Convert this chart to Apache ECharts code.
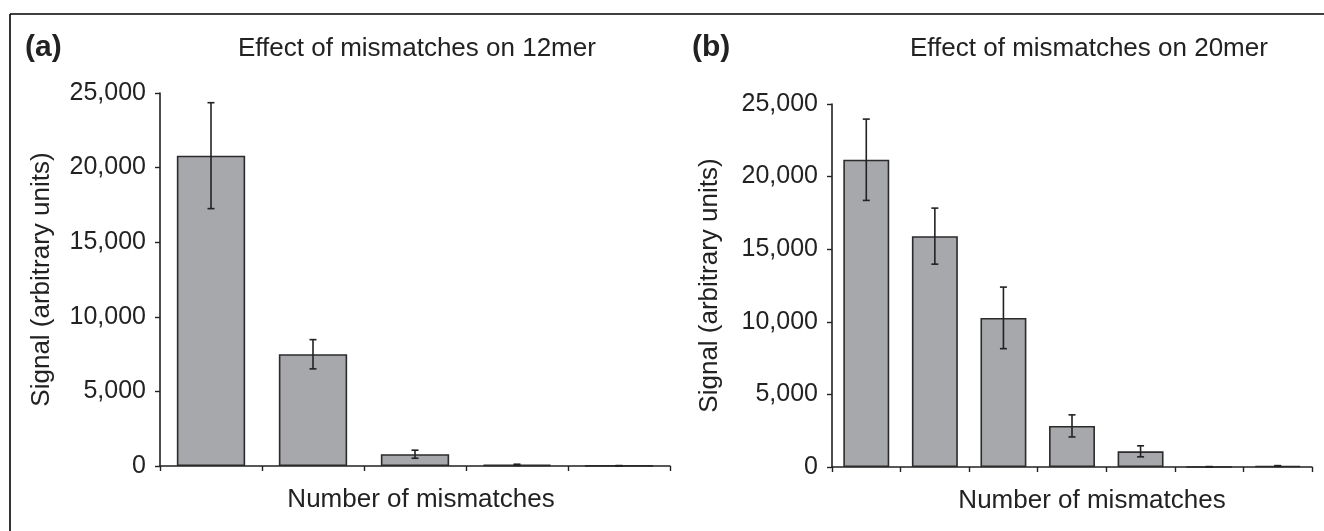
<!DOCTYPE html>
<html>
<head>
<meta charset="utf-8">
<script src="https://cdn.jsdelivr.net/npm/echarts@6/dist/echarts.min.js"></script>
<style>
html,body{margin:0;padding:0;background:#fff;}
#chart{width:1324px;height:531px;}
</style>
</head>
<body>
<div id="chart"></div>
<script>
// ---- data ----
const categories12 = ['0', '1', '2', '3', '4'];
const signal12 = [20800, 7490, 790, 80, 15];
const error12 = [3550, 980, 270, 40, 15];

const categories20 = ['0', '1', '2', '3', '4', '5', '6'];
const signal20 = [21160, 15900, 10270, 2830, 1080, 10, 70];
const error20 = [2800, 1930, 2120, 760, 380, 20, 25];

const yTicks = [0, 5000, 10000, 15000, 20000, 25000];
const titleA = 'Effect of mismatches on 12mer';
const titleB = 'Effect of mismatches on 20mer';
const xName = 'Number of mismatches';
const yName = 'Signal (arbitrary units)';

// ---- chart ----
const FONT = '"Liberation Sans", Arial, Helvetica, sans-serif';
const INK = '#222';
const chart = echarts.init(document.getElementById('chart'), null, {renderer: 'canvas'});

function fmt(v) {
  return String(v).replace(/\B(?=(\d{3})+(?!\d))/g, ',');
}

function errorData(vals, errs) {
  return vals.map((v, i) => [i, Math.max(0, v - errs[i]), v + errs[i]]);
}

function renderError(params, api) {
  const top = api.coord([api.value(0), api.value(2)]);
  const bot = api.coord([api.value(0), api.value(1)]);
  const cap = 3.5;
  const style = {stroke: INK, lineWidth: 1.6};
  return {
    type: 'group',
    children: [
      {type: 'line', shape: {x1: top[0], y1: top[1], x2: bot[0], y2: bot[1]}, style: style},
      {type: 'line', shape: {x1: top[0] - cap, y1: top[1], x2: top[0] + cap, y2: top[1]}, style: style},
      {type: 'line', shape: {x1: bot[0] - cap, y1: bot[1], x2: bot[0] + cap, y2: bot[1]}, style: style}
    ]
  };
}

function xAxisFor(cats, gridIndex, pad) {
  return {
    type: 'category',
    gridIndex: gridIndex,
    data: cats,
    boundaryGap: true,
    axisLine: {lineStyle: {color: INK, width: 1.6}},
    axisTick: {show: true, length: 5, inside: false, lineStyle: {color: INK, width: 1.4}},
    axisLabel: {show: false},
    splitLine: {show: false},
    name: xName,
    nameLocation: 'middle',
    nameGap: 21,
    nameTextStyle: {fontFamily: FONT, fontSize: 26, color: INK, padding: pad}
  };
}

function yAxisFor(gridIndex, gap) {
  return {
    type: 'value',
    gridIndex: gridIndex,
    min: yTicks[0],
    max: yTicks[yTicks.length - 1],
    interval: yTicks[1] - yTicks[0],
    axisLine: {show: true, lineStyle: {color: INK, width: 1.6}},
    axisTick: {show: true, length: 5, lineStyle: {color: INK, width: 1.4}},
    axisLabel: {fontFamily: FONT, fontSize: 25, color: INK, margin: 14, formatter: fmt},
    splitLine: {show: false},
    name: yName,
    nameLocation: 'middle',
    nameGap: gap,
    nameRotate: 90,
    nameTextStyle: {fontFamily: FONT, fontSize: 26, color: INK}
  };
}

const barStyle = {color: '#a7a8ab', borderColor: '#2b2b2b', borderWidth: 1.6};

chart.setOption({
  backgroundColor: '#fff',
  animation: false,
  title: [
    {text: '(a)', left: 25, top: 33, padding: 0, textStyle: {fontFamily: FONT, fontSize: 30, fontWeight: 'bold', color: INK}},
    {text: titleA, left: 238, top: 36, padding: 0, textStyle: {fontFamily: FONT, fontSize: 26, fontWeight: 'normal', color: INK}},
    {text: '(b)', left: 692, top: 33, padding: 0, textStyle: {fontFamily: FONT, fontSize: 30, fontWeight: 'bold', color: INK}},
    {text: titleB, left: 910, top: 36, padding: 0, textStyle: {fontFamily: FONT, fontSize: 26, fontWeight: 'normal', color: INK}}
  ],
  graphic: [
    {type: 'line', silent: true, shape: {x1: 10, y1: 14, x2: 1324, y2: 14}, style: {stroke: '#000', lineWidth: 1.6}},
    {type: 'line', silent: true, shape: {x1: 10, y1: 14, x2: 10, y2: 531}, style: {stroke: '#000', lineWidth: 1.6}}
  ],
  grid: [
    {left: 160, top: 93, right: 654, bottom: 65, containLabel: false},
    {left: 832, top: 104, right: 12, bottom: 64, containLabel: false}
  ],
  xAxis: [
    xAxisFor(categories12, 0, [0, 0, 0, 12]),
    xAxisFor(categories20, 1, [0, 0, 0, 40])
  ],
  yAxis: [
    yAxisFor(0, 105),
    yAxisFor(1, 109)
  ],
  series: [
    {type: 'bar', xAxisIndex: 0, yAxisIndex: 0, data: signal12, barCategoryGap: '33%', itemStyle: barStyle},
    {type: 'custom', xAxisIndex: 0, yAxisIndex: 0, data: errorData(signal12, error12), renderItem: renderError, z: 5},
    {type: 'bar', xAxisIndex: 1, yAxisIndex: 1, data: signal20, barCategoryGap: '33%', itemStyle: barStyle},
    {type: 'custom', xAxisIndex: 1, yAxisIndex: 1, data: errorData(signal20, error20), renderItem: renderError, z: 5}
  ]
});
</script>
</body>
</html>
